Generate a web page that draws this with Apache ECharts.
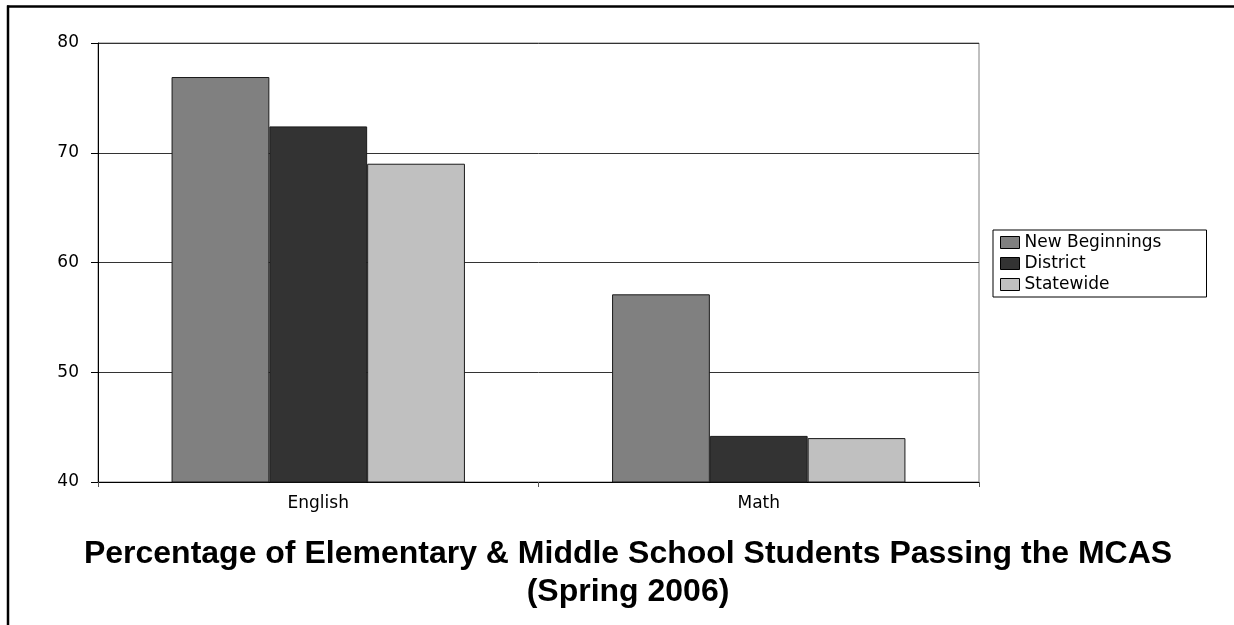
<!DOCTYPE html>
<html>
<head>
<meta charset="utf-8">
<script src="https://cdn.jsdelivr.net/npm/echarts@6/dist/echarts.min.js"></script>
<style>
html,body{margin:0;padding:0;background:#fff;}
#chart{width:1234px;height:625px;}
</style>
</head>
<body>
<div id="chart"></div>
<script>
const categories = ['English', 'Math'];
const newBeginnings = [76.9, 57.1];
const district = [72.4, 44.2];
const statewide = [69.0, 44.0];
const yTicks = [40, 50, 60, 70, 80];
const titleText = 'Percentage of Elementary & Middle School Students Passing the MCAS\n(Spring 2006)';

const chart = echarts.init(document.getElementById('chart'), null, {renderer: 'canvas'});
const labelFont = 'DejaVu Sans';
const barBorder = {borderColor: '#1a1a1a', borderWidth: 1};

chart.setOption({
  backgroundColor: '#ffffff',
  animation: false,
  title: {
    text: titleText,
    left: 623,
    top: 530,
    textAlign: 'center',
    textStyle: {fontFamily: 'Liberation Sans', fontWeight: 'bold', fontSize: 32, lineHeight: 38, color: '#000'}
  },
  legend: {
    orient: 'vertical',
    left: 993,
    top: 230,
    padding: [4, 8, 4, 7],
    itemGap: 4,
    itemWidth: 19,
    itemHeight: 12,
    borderColor: '#000',
    borderWidth: 1,
    icon: 'rect',
    itemStyle: {borderColor: '#000', borderWidth: 1},
    textStyle: {fontFamily: labelFont, fontSize: 17, lineHeight: 17, color: '#000', width: 174},
    data: ['New Beginnings', 'District', 'Statewide']
  },
  grid: {
    left: 98, right: 255, top: 43, bottom: 143,
    show: true, borderColor: '#808080', borderWidth: 1, backgroundColor: 'transparent'
  },
  xAxis: {
    type: 'category',
    data: categories,
    boundaryGap: true,
    axisLine: {lineStyle: {color: '#000', width: 1}},
    axisTick: {show: true, alignWithLabel: false, length: 5, lineStyle: {color: '#555'}},
    axisLabel: {fontFamily: labelFont, fontSize: 17, color: '#000', margin: 13}
  },
  yAxis: {
    type: 'value',
    min: yTicks[0],
    max: yTicks[yTicks.length - 1],
    interval: 10,
    axisLine: {show: true, lineStyle: {color: '#000', width: 1}},
    axisTick: {show: true, length: 7, lineStyle: {color: '#000'}},
    axisLabel: {fontFamily: labelFont, fontSize: 17, color: '#000', margin: 19},
    splitLine: {show: true, lineStyle: {color: '#333', width: 1}}
  },
  series: [
    {name: 'New Beginnings', type: 'bar', data: newBeginnings, barGap: '0%', barCategoryGap: '33.4%',
     itemStyle: Object.assign({color: '#808080'}, barBorder)},
    {name: 'District', type: 'bar', data: district, barGap: '0%', barCategoryGap: '33.4%',
     itemStyle: Object.assign({color: '#333333'}, barBorder)},
    {name: 'Statewide', type: 'bar', data: statewide, barGap: '0%', barCategoryGap: '33.4%',
     itemStyle: Object.assign({color: '#c0c0c0'}, barBorder)}
  ],
  graphic: [
    {type: 'line', shape: {x1: 7, y1: 6.5, x2: 1234, y2: 6.5}, style: {stroke: '#000', lineWidth: 2.5}, silent: true},
    {type: 'line', shape: {x1: 8, y1: 5.5, x2: 8, y2: 625}, style: {stroke: '#000', lineWidth: 2.5}, silent: true}
  ]
});
</script>
</body>
</html>
